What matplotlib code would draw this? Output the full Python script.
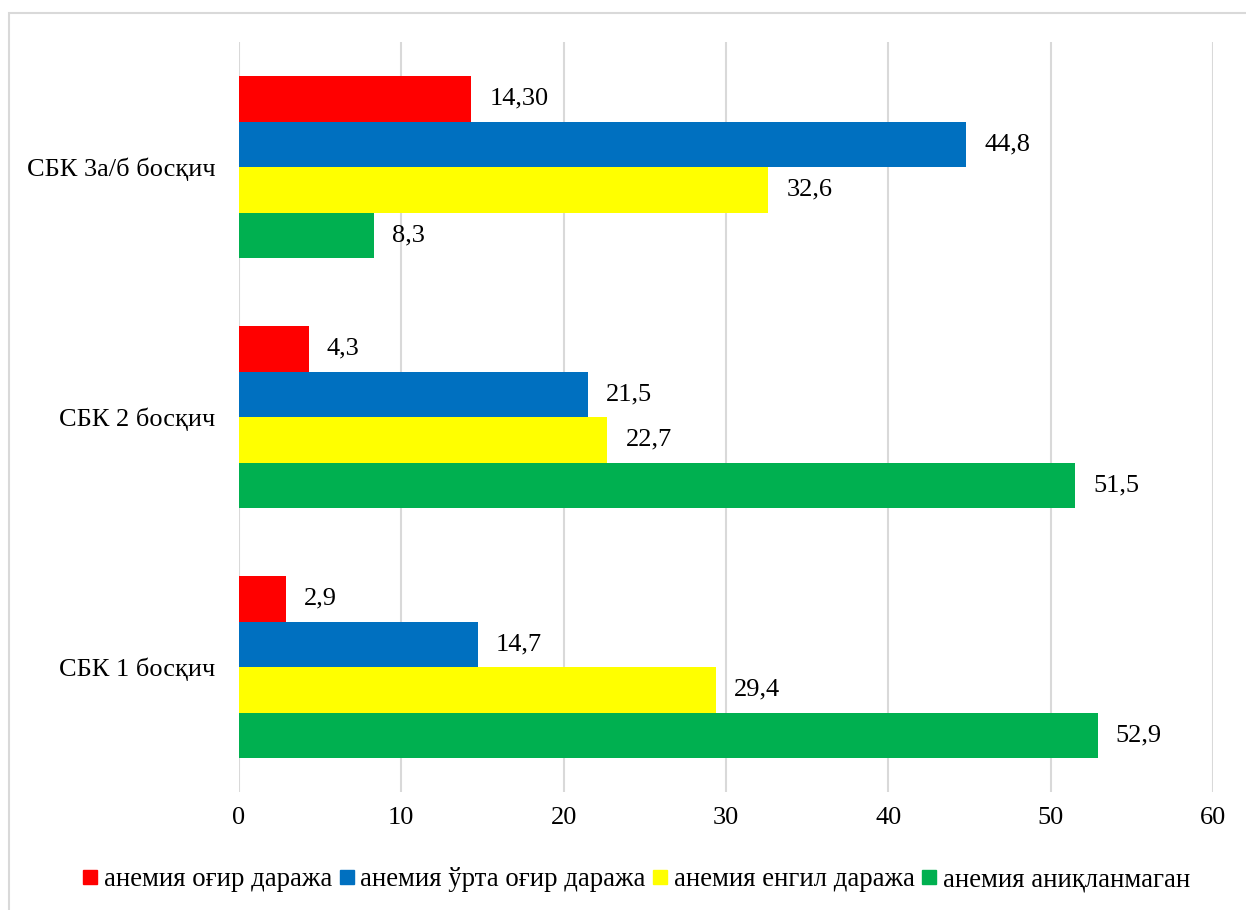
import matplotlib
matplotlib.use("Agg")
import matplotlib.pyplot as plt
from matplotlib.lines import Line2D
from matplotlib.patches import Rectangle
import numpy as np

plt.rcParams['font.family'] = ['Liberation Serif', 'DejaVu Serif']

categories = ["СБК 1 босқич", "СБК 2 босқич", "СБК 3а/б босқич"]
series_names = ["анемия оғир даража", "анемия ўрта оғир даража",
                "анемия енгил даража", "анемия аниқланмаган"]
severe = [2.9, 4.3, 14.30]
moderate = [14.7, 21.5, 44.8]
mild = [29.4, 22.7, 32.6]
none_found = [52.9, 51.5, 8.3]
severe_labels = ["2,9", "4,3", "14,30"]
moderate_labels = ["14,7", "21,5", "44,8"]
mild_labels = ["29,4", "22,7", "32,6"]
none_labels = ["52,9", "51,5", "8,3"]
x_ticks = [0, 10, 20, 30, 40, 50, 60]

colors = ["#FF0000", "#0070C0", "#FFFF00", "#00B050"]
values = [severe, moderate, mild, none_found]
labels = [severe_labels, moderate_labels, mild_labels, none_labels]

fig = plt.figure(figsize=(12.46, 9.10), dpi=100)
ax = fig.add_axes([239 / 1246, 1 - 792 / 910, (1213 - 239) / 1246, (792 - 42) / 910])

y = np.arange(len(categories))
h = 0.182
offsets = [1.5 * h, 0.5 * h, -0.5 * h, -1.5 * h]
for vals, labs, col, off in zip(values, labels, colors, offsets):
    bars = ax.barh(y + off, vals, height=h, color=col, zorder=3)
    for b, lab in zip(bars, labs):
        ax.annotate(lab, (b.get_width(), b.get_y() + b.get_height() / 2),
                    xytext=(13, 0), textcoords="offset points",
                    va="center", ha="left", fontsize=19, color="#000000")

ax.set_xlim(0, 60)
ax.set_ylim(-0.5, 2.5)
ax.set_xticks(x_ticks)
ax.set_xticklabels([str(t) for t in x_ticks], fontsize=19)
ax.set_yticks(y)
ax.set_yticklabels(categories, fontsize=19)
ax.tick_params(axis="both", length=0)
ax.tick_params(axis="x", pad=11)
ax.tick_params(axis="y", pad=17)
ax.grid(axis="x", color="#D9D9D9", linewidth=1.5, zorder=0)
for s in ax.spines.values():
    s.set_visible(False)

handles = [Line2D([], [], marker="s", linestyle="none", markersize=9.5,
                  markerfacecolor=c, markeredgecolor=c) for c in colors]
fig.legend(handles, series_names, loc="center", bbox_to_anchor=(0.511, 1 - 880 / 910),
           ncol=4, frameon=False, fontsize=19.3, handlelength=0.5, handletextpad=0.25,
           columnspacing=0.3, borderaxespad=0)

fig.patches.append(Rectangle((9 / 1246, -0.1), 1.2, 1 - 13 / 910 + 0.1,
                             transform=fig.transFigure, fill=False,
                             edgecolor="#D9D9D9", linewidth=1.5))

fig.savefig("out.png", dpi=100)
